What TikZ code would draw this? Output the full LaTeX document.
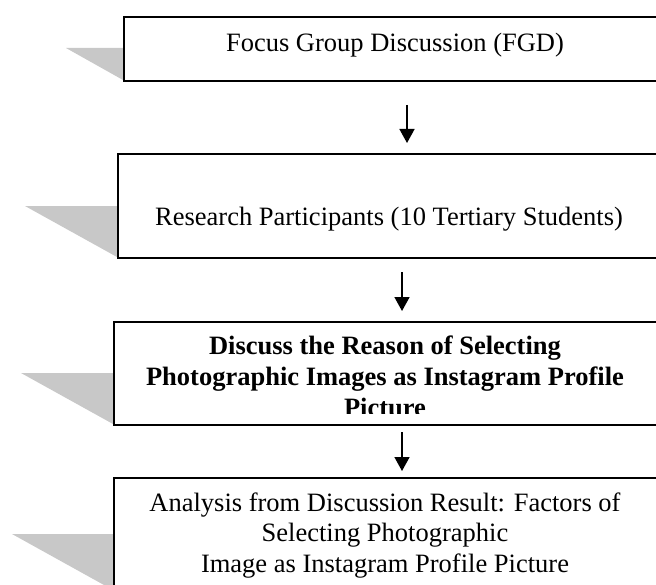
\documentclass[tikz,border=0pt]{standalone}
\usepackage{fontspec}
\setmainfont{Liberation Serif}
\usetikzlibrary{arrows.meta}
\definecolor{shadowgray}{RGB}{200,200,200}
\tikzset{
  flowbox/.style={draw=black, fill=white, line width=1.6bp, inner sep=0pt, minimum width=544bp, anchor=north west},
  boxshadow/.style={fill=shadowgray, draw=none},
  linetext/.style={anchor=base, inner sep=0pt, font=\fontsize{26.6}{30.6}\selectfont},
  boldtext/.style={linetext, font=\fontsize{26.6}{30.6}\selectfont\bfseries},
  flowarrow/.style={line width=1.6bp, -{Triangle[width=15bp,length=14bp]}}
}
\begin{document}
\begin{tikzpicture}[x=1bp,y=-1bp]
\useasboundingbox (0,0) rectangle (656,585);
\clip (0,0) rectangle (656,585);
% shadows
\fill[boxshadow] (123,48) -- (66,48) -- (123,80) -- cycle;
\fill[boxshadow] (117,206) -- (25,206) -- (117,257) -- cycle;
\fill[boxshadow] (113,373) -- (21,373) -- (113,424) -- cycle;
\fill[boxshadow] (113,534) -- (12,534) -- (113,590) -- cycle;
% boxes
\node[flowbox, minimum height=64bp]  (b1) at (123,16) {};
\node[flowbox, minimum height=104bp] (b2) at (117,153) {};
\node[flowbox, minimum height=103bp] (b3) at (113,321) {};
\node[flowbox, minimum height=113bp] (b4) at (113,477) {};
% texts
\node[linetext] (t1) at (395,52) {Focus Group Discussion (FGD)};
\node[linetext] (t2) at (389,225) {Research Participants (10 Tertiary Students)};
\begin{scope}
\clip (113,321) rectangle (657,413);
\node[boldtext] (t3a) at (385,354) {Discuss the Reason of Selecting};
\node[boldtext] (t3b) at (385,385) {Photographic Images as Instagram Profile};
\node[boldtext] (t3c) at (385,416) {Picture};
\end{scope}
\node[linetext] (t4a) at (385,511) {Analysis from Discussion Result: Factors of};
\node[linetext] (t4b) at (385,541.5) {Selecting Photographic};
\node[linetext] (t4c) at (385,572) {Image as Instagram Profile Picture};
% arrows
\coordinate (a1s) at (407,105); \coordinate (a1e) at (407,143);
\coordinate (a2s) at (402,272); \coordinate (a2e) at (402,311);
\coordinate (a3s) at (402,432); \coordinate (a3e) at (402,471);
\draw[flowarrow] (a1s) -- (a1e);
\draw[flowarrow] (a2s) -- (a2e);
\draw[flowarrow] (a3s) -- (a3e);
\end{tikzpicture}
\end{document}
